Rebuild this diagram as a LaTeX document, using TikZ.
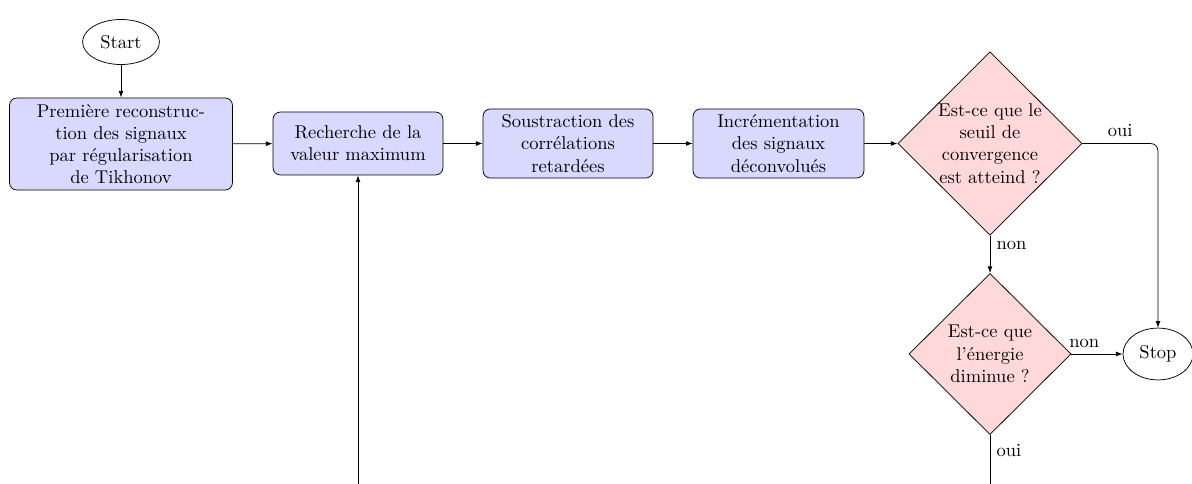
\documentclass[tikz,border=0pt]{standalone}
\usetikzlibrary{shapes.geometric,arrows.meta}
\begin{document}
\begin{tikzpicture}[x=0.54pt,y=-0.54pt,
  every path/.style={},
  conn/.style={draw,-{Latex[length=3.6pt,width=2.6pt]}},
  proc/.style={rectangle,rounded corners=4pt,draw,fill=blue!15,align=center,inner sep=0pt},
  decide/.style={diamond,draw,fill=red!15,align=center,inner sep=0pt,aspect=1},
  term/.style={ellipse,draw,inner sep=0pt}]
\useasboundingbox (0,0) rectangle (1192,484);
\clip (0,0) rectangle (1192,484);
\node[term,minimum width=41.5pt,minimum height=24.3pt] (start) at (121,42) {Start};
\node[proc,minimum width=120.4pt,minimum height=49.7pt] (b1) at (121,144)
  {Première reconstruc-\\tion des signaux\\par régularisation\\de Tikhonov};
\node[proc,minimum width=91.8pt,minimum height=34pt] (b2) at (358,143.5)
  {Recherche de la\\valeur maximum};
\node[proc,minimum width=91.8pt,minimum height=37.3pt] (b3) at (568,143.5)
  {Soustraction des\\corrélations\\retardées};
\node[proc,minimum width=92.3pt,minimum height=37.3pt] (b4) at (778.5,143.5)
  {Incrémentation\\des signaux\\déconvolués};
\node[decide,minimum width=99.4pt,minimum height=98.8pt] (d1) at (990,143.5)
  {Est-ce que le\\seuil de\\convergence\\est atteind ?};
\node[decide,minimum width=87.5pt,minimum height=87pt] (d2) at (990,354)
  {Est-ce que\\l'énergie\\diminue ?};
\node[term,minimum width=37.8pt,minimum height=28pt] (stop) at (1158,354) {Stop};
\coordinate (loop) at (990,498);

\draw[conn] (start) -- (b1);
\draw[conn] (b1) -- (b2);
\draw[conn] (b2) -- (b3);
\draw[conn] (b3) -- (b4);
\draw[conn] (b4) -- (d1);
\draw[conn,rounded corners=4pt] (d1.east) -| node[near start,above] {oui} (stop.north);
\draw[conn] (d1.south) -- node[near start,right] {non} (d2.north);
\draw[conn] (d2.east) -- node[near start,above] {non} (stop.west);
\draw[conn] (d2.south) -- node[near start,right] {oui} (loop) -| (b2.south);
\end{tikzpicture}
\end{document}
